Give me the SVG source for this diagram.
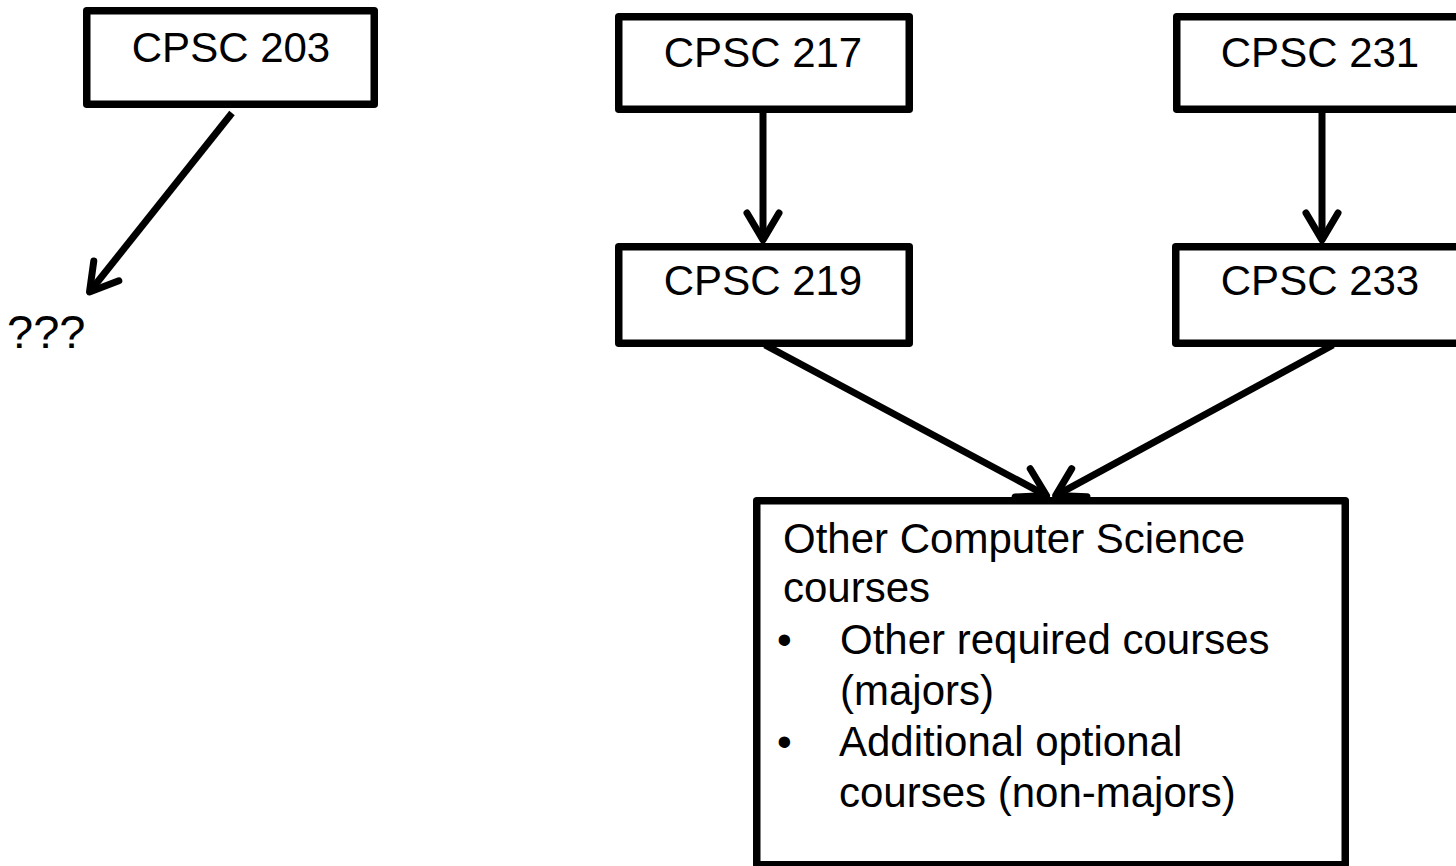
<svg xmlns="http://www.w3.org/2000/svg" width="1456" height="866" viewBox="0 0 1456 866">
<style>
.box{fill:#fff;stroke:#000;stroke-width:7.5;stroke-linejoin:round}
.lbl{font-family:"Liberation Sans",Arial,sans-serif;font-size:42px;fill:#000}
.mid{text-anchor:middle}
.con{fill:none;stroke:#000;stroke-width:7;marker-end:url(#arr)}
</style>
<defs>
<marker id="arr" markerUnits="userSpaceOnUse" markerWidth="60" markerHeight="60" viewBox="-40 -30 60 60" refX="0" refY="0" orient="auto" overflow="visible">
<path d="M -27 -16 L 0 0 L -27 16" fill="none" stroke="#000" stroke-width="7" stroke-linecap="round" stroke-linejoin="round"/>
</marker>
</defs>
<rect width="1456" height="866" fill="#fff"/>
<g id="cpsc203">
<rect class="box" x="86.75" y="10.75" width="287.5" height="93.5"/>
<text class="lbl mid" x="231" y="62">CPSC 203</text>
</g>
<g id="unknown">
<text class="lbl" x="7" y="348" style="font-size:47px">???</text>
</g>
<g id="cpsc217">
<rect class="box" x="618.75" y="16.75" width="290.5" height="92.5"/>
<text class="lbl mid" x="763" y="67">CPSC 217</text>
</g>
<g id="cpsc219">
<rect class="box" x="618.75" y="246.75" width="290.5" height="96.5"/>
<text class="lbl mid" x="763" y="295">CPSC 219</text>
</g>
<g id="cpsc231">
<rect class="box" x="1176.75" y="16.75" width="290.5" height="92.5"/>
<text class="lbl mid" x="1320" y="67">CPSC 231</text>
</g>
<g id="cpsc233">
<rect class="box" x="1175.75" y="246.75" width="290.5" height="96.5"/>
<text class="lbl mid" x="1320" y="295">CPSC 233</text>
</g>
<g id="other">
<rect class="box" x="756.75" y="500.75" width="588.5" height="364"/>
<text class="lbl" x="783" y="553">Other Computer Science</text>
<text class="lbl" x="783" y="602">courses</text>
<text class="lbl" x="777" y="654">•</text>
<text class="lbl" x="840" y="654">Other required courses</text>
<text class="lbl" x="840" y="705">(majors)</text>
<text class="lbl" x="777" y="756">•</text>
<text class="lbl" x="839" y="756">Additional optional</text>
<text class="lbl" x="839" y="807">courses (non-majors)</text>
</g>
<g id="connectors">
<line class="con" x1="232" y1="113" x2="89.5" y2="292"/>
<line class="con" x1="763" y1="113" x2="763" y2="240"/>
<line class="con" x1="1322" y1="113" x2="1322" y2="240"/>
<line class="con" x1="765" y1="345" x2="1046.5" y2="495.6"/>
<line class="con" x1="1333" y1="345" x2="1055.6" y2="495.6"/>
</g>
</svg>
